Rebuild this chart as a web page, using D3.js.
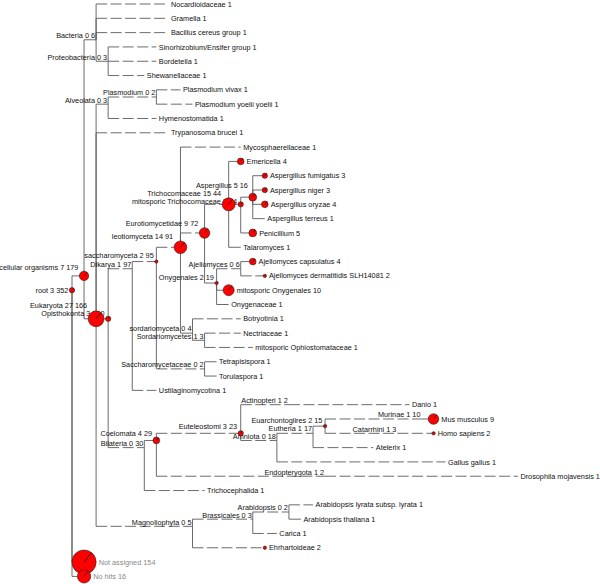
<!DOCTYPE html>
<html><head><meta charset="utf-8">
<script src="https://cdn.jsdelivr.net/npm/d3@7"></script>
<style>body{margin:0;background:#fff}svg{display:block}</style>
</head><body><svg id="c" width="600" height="584"></svg>
<script>
// Taxonomy tree (preorder). Levels are NCBI depths.
const nodeNames = ["root","cellular organisms","Bacteria","Nocardioidaceae","Gramella","Bacillus cereus group","Proteobacteria","Sinorhizobium/Ensifer group","Bordetella","Shewanellaceae","Eukaryota","Alveolata","Plasmodium","Plasmodium vivax","Plasmodium yoelii yoelii","Hymenostomatida","Trypanosoma brucei","Opisthokonta","Dikarya","saccharomyceta","leotiomyceta","Mycosphaerellaceae","Eurotiomycetidae","Trichocomaceae","Emericella","mitosporic Trichocomaceae","Aspergillus","Aspergillus fumigatus","Aspergillus niger","Aspergillus oryzae","Aspergillus terreus","Penicillium","Talaromyces","Onygenales","Ajellomyces","Ajellomyces capsulatus","Ajellomyces dermatitidis SLH14081","mitosporic Onygenales","Onygenaceae","sordariomyceta","Botryotinia","Sordariomycetes","Nectriaceae","mitosporic Ophiostomataceae","Saccharomycetaceae","Tetrapisispora","Torulaspora","Ustilaginomycotina","Bilateria","Coelomata","Euteleostomi","Actinopteri","Danio","Amniota","Eutheria","Euarchontoglires","Murinae","Mus musculus","Catarrhini","Homo sapiens","Atelerix","Gallus gallus","Endopterygota","Drosophila mojavensis","Trichocephalida","Magnoliophyta","Brassicales","Arabidopsis","Arabidopsis lyrata subsp. lyrata","Arabidopsis thaliana","Carica","Ehrhartoideae","Not assigned","No hits"];
const nodeParents = ["","root","cellular organisms","Bacteria","Bacteria","Bacteria","Bacteria","Proteobacteria","Proteobacteria","Proteobacteria","cellular organisms","Eukaryota","Alveolata","Plasmodium","Plasmodium","Alveolata","Eukaryota","Eukaryota","Opisthokonta","Dikarya","saccharomyceta","leotiomyceta","leotiomyceta","Eurotiomycetidae","Trichocomaceae","Trichocomaceae","mitosporic Trichocomaceae","Aspergillus","Aspergillus","Aspergillus","Aspergillus","mitosporic Trichocomaceae","Trichocomaceae","Eurotiomycetidae","Onygenales","Ajellomyces","Ajellomyces","Onygenales","Onygenales","leotiomyceta","sordariomyceta","sordariomyceta","Sordariomycetes","Sordariomycetes","saccharomyceta","Saccharomycetaceae","Saccharomycetaceae","Dikarya","Opisthokonta","Bilateria","Coelomata","Euteleostomi","Actinopteri","Euteleostomi","Amniota","Eutheria","Euarchontoglires","Murinae","Euarchontoglires","Catarrhini","Eutheria","Amniota","Coelomata","Endopterygota","Bilateria","Eukaryota","Magnoliophyta","Brassicales","Arabidopsis","Arabidopsis","Brassicales","Magnoliophyta","root","root"];
const nodeLevels = [0,1,2,8,8,8,3,7,7,6,2,3,7,9,10,7,8,3,5,7,9,14,11,13,14,14,15,16,16,16,16,15,14,12,14,15,16,13,13,10,14,11,14,15,11,12,12,7,6,7,14,18,28,17,20,21,29,30,27,30,25,31,21,37,11,10,15,18,20,19,17,16,1,1];
const nodeAssigned = [3,7,0,1,1,1,0,1,1,1,27,0,0,1,1,1,1,3,1,2,14,1,9,15,4,3,5,3,3,4,1,5,1,2,0,4,2,10,1,0,1,1,1,1,0,1,1,1,0,4,3,1,1,0,1,2,1,9,1,2,1,1,1,1,1,0,0,0,1,1,1,2,154,16];
const nodeTotals = [352,179,6,1,1,1,3,1,1,1,166,3,2,1,1,1,1,130,97,95,91,1,72,44,4,24,16,3,3,4,1,5,1,19,6,4,2,10,1,4,1,3,1,1,2,1,1,1,30,29,23,2,1,18,17,15,10,9,3,2,1,1,2,1,1,5,3,2,1,1,1,2,154,16];
const greyLabels = ["Not assigned","No hits"];

const svg = d3.select("#c");
const table = nodeNames.map((n,i)=>({id:n, parent:nodeParents[i]||null, level:nodeLevels[i], assigned:nodeAssigned[i], total:nodeTotals[i]}));
const root = d3.stratify().id(d=>d.id).parentId(d=>d.parent)(table);

const leaves = root.leaves();
const x = d3.scaleLinear().domain([0, 37]).range([72, 517.9]);
const y = d3.scaleLinear().domain([0, leaves.length - 1]).range([4, 576.4]);
const r = d3.scaleLog().domain([1, 154]).range([0, 12.1]);
const rad = n => n >= 2 ? r(n) : 0;

leaves.forEach((l,i)=>{ l.py = y(i); });
root.eachAfter(n=>{
  n.px = x(n.data.level);
  if (n.children) n.py = d3.mean(n.leaves(), l=>l.py);
  n.r = rad(n.data.assigned);
});

const nodes = root.descendants();
const links = root.links();
const lineCol = "#5a5a5a";
const gL = svg.append("g").attr("fill","none").attr("stroke",lineCol).attr("stroke-width",0.9);
gL.selectAll("line.v").data(links).join("line").attr("class","v")
  .attr("x1",d=>d.source.px).attr("x2",d=>d.source.px)
  .attr("y1",d=>d.source.py).attr("y2",d=>d.target.py);
gL.selectAll("line.h").data(links).join("line").attr("class","h")
  .attr("x1",d=>d.source.px).attr("x2",d=>d.target.px)
  .attr("y1",d=>d.target.py).attr("y2",d=>d.target.py)
  .attr("stroke-dasharray",d=> (d.target.data.level - d.source.data.level > 1) ? "11,3.5" : null);

const font = "'Liberation Sans', Arial, Helvetica, sans-serif";
const gT = svg.append("g").attr("font-family",font).attr("font-size","7.3px");
const texts = gT.selectAll("text").data(nodes).join("text")
  .attr("fill",d=>greyLabels.includes(d.data.id) ? "#888" : "#111")
  .attr("text-anchor",d=>d.children ? "end" : "start")
  .attr("x",d=>d.children ? d.px - d.r - 1 : d.px + d.r + 2.5)
  .text(d=>d.children ? `${d.data.id} ${d.data.assigned} ${d.data.total}` : `${d.data.id} ${d.data.assigned}`);

// label baselines; internal labels sit above their node, then get pushed apart when they collide
texts.each(function(d){
  d.ly = (!d.children || !d.parent) ? d.py + 2.6 : d.py - d.r - 1.5;
  const w = this.getComputedTextLength();
  if (d.children) { d.lx1 = d.px - d.r - 1; d.lx0 = d.lx1 - w; }
  else { d.lx0 = d.px + d.r + 2.5; d.lx1 = d.lx0 + w; }
});
const inner = nodes.filter(d=>d.children && d.parent);
const lineH = 8.2;
for (let it = 0; it < 60; it++) {
  let moved = false;
  for (let i = 0; i < inner.length; i++) for (let j = i+1; j < inner.length; j++) {
    const a = inner[i], b = inner[j];
    if (a.lx0 >= b.lx1 || b.lx0 >= a.lx1) continue;
    const gap = Math.abs(a.ly - b.ly);
    if (gap >= lineH) continue;
    const push = (lineH - gap) / 2 + 0.01;
    const [up, dn] = (a.ly < b.ly || (a.ly === b.ly && a.py <= b.py)) ? [a, b] : [b, a];
    up.ly -= push; dn.ly += push; moved = true;
  }
  if (!moved) break;
}
texts.attr("y",d=>d.ly);

const circ = nodes.filter(d=>d.r > 0);
const gC = svg.append("g");
gC.selectAll("circle").data(circ).join("circle")
  .attr("cx",d=>d.px).attr("cy",d=>d.py).attr("r",d=>d.r)
  .attr("fill","#ff0000").attr("stroke","#222").attr("stroke-width",0.6);
const ang = -52 * Math.PI/180;
gC.selectAll("line").data(circ).join("line")
  .attr("x1",d=>d.px).attr("y1",d=>d.py)
  .attr("x2",d=>d.px + d.r*Math.cos(ang)).attr("y2",d=>d.py + d.r*Math.sin(ang))
  .attr("stroke","#111").attr("stroke-width",0.7);
</script>
</body></html>
